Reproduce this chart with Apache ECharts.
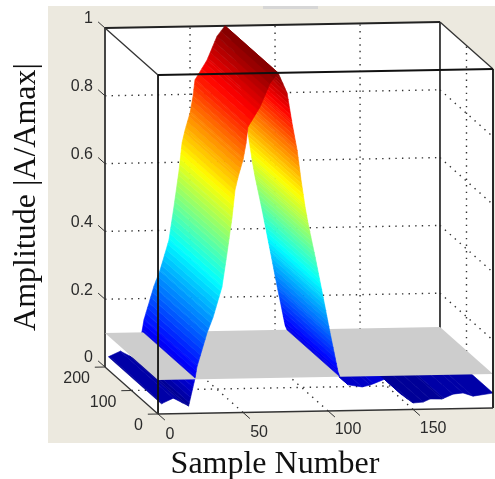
<!DOCTYPE html>
<html><head><meta charset="utf-8">
<style>html,body{margin:0;padding:0;background:#fff}#c{width:495px;height:479px}</style>
<script src="https://cdn.jsdelivr.net/npm/echarts@6/dist/echarts.min.js"></script>
</head><body><div id="c"></div>
<script>
// ---- data ----
const sampleLow1   = [2, 9, 18, 21.8];
const ampLow1      = [0.03, 0.046, 0.022, 0.104];
const sampleRising = [21.8, 22.9, 28.8, 32.4, 37.6, 40.6, 43.5, 45.3, 47.1, 50, 51.8, 52.9, 60, 65.9, 70.6];
const ampRising    = [0.104, 0.137, 0.236, 0.283, 0.371, 0.471, 0.574, 0.657, 0.695, 0.745, 0.795, 0.842, 0.90, 0.97, 1.0];
const sampleFalling= [70.6, 75.9, 78.8, 81.8, 84.1, 86.5, 88.2, 92.4, 97.1, 101.2, 105.9, 107];
const ampFalling   = [1.0, 0.94, 0.851, 0.771, 0.683, 0.603, 0.555, 0.455, 0.336, 0.23, 0.114, 0.1];
const sampleLow2   = [107, 111.8, 120, 124.7, 133.5, 137.6, 143.5, 150, 155.9, 160, 167, 173.5, 179.4, 185.3, 197];
const ampLow2      = [0.1, 0.076, 0.069, 0.074, 0.091, 0.076, 0.043, 0.019, 0.021, 0.03, 0.029, 0.043, 0.046, 0.036, 0.044];
const planeLevel = 0.1;
const xTicks = [0, 50, 100, 150];
const yTicks = [0, 100, 200];
const zTicks = [0, 0.2, 0.4, 0.6, 0.8, 1];
const xTickLabels = ['0', '50', '100', '150'];
const yTickLabels = ['0', '100', '200'];
const zTickLabels = ['0', '0.2', '0.4', '0.6', '0.8', '1'];
const xTitle = 'Sample Number';
const zTitle = 'Amplitude |A/Amax|';
const xMax = 197, yMax = 200, zMax = 1;

// ---- view: 3D data -> two hidden linear axes ----
const shearU = -0.1559, shearVy = 0.000693, shearVx = 0.00009;
const proj = (x, y, z) => [x + shearU * y, z + shearVx * x + shearVy * y];
const uMin = shearU * yMax, vMax = 1 + shearVy * yMax;

function jet(t) {
  const q = Math.min(63, Math.max(0, Math.floor(t * 64)));
  const s = (q + 0.5) / 64;
  const c = v => Math.round(255 * Math.max(0, Math.min(1, v)));
  return `rgb(${c(Math.min(4*s-1.5, -4*s+4.5))},${c(Math.min(4*s-0.5, -4*s+3.5))},${c(Math.min(4*s+0.5, -4*s+2.5))})`;
}
// slice a profile into strips of one colour-map level each
function strips(xs, zs) {
  const out = [];
  for (let i = 0; i + 1 < xs.length; i++) {
    const [xa, za, xb, zb] = [xs[i], zs[i], xs[i+1], zs[i+1]];
    const cuts = [0, 1];
    for (let k = 0; k <= 64; k++) {
      const l = k / 64, t = (l - za) / (zb - za);
      if (t > 0 && t < 1) cuts.push(t);
    }
    const tp = (planeLevel - za) / (zb - za);
    if (tp > 0 && tp < 1) cuts.push(tp);
    cuts.sort((a, b) => a - b);
    for (let j = 0; j + 1 < cuts.length; j++) {
      const p = cuts[j], q = cuts[j+1];
      out.push([xa+(xb-xa)*p, za+(zb-za)*p, xa+(xb-xa)*q, za+(zb-za)*q]);
    }
  }
  return out;
}
const allLow = strips(sampleLow1, ampLow1).concat(strips(sampleLow2, ampLow2));
const falling = strips(sampleFalling, ampFalling);
const rising = strips(sampleRising, ampRising);

const frameLine = '#111';
const dash = {stroke:'#333', lineWidth:1.4, lineDash:[1.4,5.2]};
const solid = (w, c) => ({stroke:c || frameLine, lineWidth:w});

function seg(api, a, b, style) {
  const p = api.coord(proj(...a)), q = api.coord(proj(...b));
  return {type:'line', shape:{x1:p[0],y1:p[1],x2:q[0],y2:q[1]}, style};
}
function poly(api, pts, style) {
  return {type:'polygon', shape:{points:pts.map(p => api.coord(proj(...p)))}, style};
}
function stripSeries(list, name) {
  return {
    type:'custom', name, coordinateSystem:'cartesian2d', silent:true, clip:false,
    data:list.map((_, i) => [i]),
    renderItem(params, api) {
      const [xa, za, xb, zb] = list[params.dataIndex];
      const col = jet((za + zb) / 2);
      return poly(api, [[xa,0,za],[xb,0,zb],[xb,yMax,zb],[xa,yMax,za]], {fill:col, stroke:col, lineWidth:0.6});
    }
  };
}
function oneShot(name, build) {
  return {
    type:'custom', name, coordinateSystem:'cartesian2d', silent:true, clip:false,
    data:[[0]],
    renderItem(params, api) { return {type:'group', children:build(api)}; }
  };
}

const back = oneShot('box', api => {
  const kids = [poly(api, [[0,yMax,1],[xMax,yMax,1],[xMax,0,1],[xMax,0,0],[0,0,0],[0,yMax,0]], {fill:'#fff'})];
  zTicks.filter(z => z > 0 && z < 1).forEach(z => {
    kids.push(seg(api,[0,yMax,z],[xMax,yMax,z],dash));
    kids.push(seg(api,[xMax,yMax,z],[xMax,0,z],dash));
  });
  xTicks.filter(x => x > 0).forEach(x => {
    kids.push(seg(api,[x,yMax,0],[x,yMax,1],dash));
    kids.push(seg(api,[x,0,0],[x,yMax,0],dash));
  });
  kids.push(seg(api,[xMax,100,0],[xMax,100,1],dash));
  kids.push(seg(api,[0,100,0],[xMax,100,0],dash));
  kids.push(seg(api,[0,yMax,0],[0,yMax,1],solid(1.8,'#333')));
  kids.push(seg(api,[xMax,yMax,0],[xMax,yMax,1],solid(1.8,'#333')));
  kids.push(seg(api,[0,yMax,1],[xMax,yMax,1],solid(1.8,'#222')));
  kids.push(seg(api,[0,yMax,1],[0,0,1],solid(1.3,'#333')));
  kids.push(seg(api,[xMax,yMax,1],[xMax,0,1],solid(1.3,'#333')));
  return kids;
});
const plane = oneShot('plane', api => [
  poly(api, [[0,yMax,planeLevel],[xMax,yMax,planeLevel],[xMax,0,planeLevel],[0,0,planeLevel]], {fill:'#cdcdcd'})
]);
const front = oneShot('front', api => {
  const kids = [
    seg(api,[0,0,0],[0,0,1],solid(1.8)),
    seg(api,[xMax,0,0],[xMax,0,1],solid(1.8)),
    seg(api,[0,0,1],[xMax,0,1],solid(1.8)),
    seg(api,[0,0,0],[xMax,0,0],solid(1.7,'#333')),
    seg(api,[0,0,0],[0,yMax,0],solid(1.3,'#333'))
  ];
  const tf = 'Liberation Sans, Arial, sans-serif';
  const text = (p, dx, dy, t, align) => {
    const c = api.coord(proj(...p));
    return {type:'text', x:c[0]+dx, y:c[1]+dy, style:{text:t, fill:'#2b2b2b', font:`16px ${tf}`, align, verticalAlign:'middle'}};
  };
  xTicks.forEach((x, i) => {
    kids.push(seg(api,[x,0,0],[x,-26,0],solid(1,'#333')));
    kids.push(text([x,0,0], 12 + 8*Math.min(1, x/100), 21 - 2*Math.min(1, x/100), xTickLabels[i], 'center'));
  });
  yTicks.forEach((y, i) => {
    kids.push(seg(api,[0,y,0],[-6,y,0],solid(1,'#333')));
    kids.push(text([0,y,0], -15, 12, yTickLabels[i], 'right'));
  });
  zTicks.forEach((z, i) => {
    kids.push(seg(api,[0,yMax,z],[0,yMax+26,z],solid(1,'#333')));
    kids.push(text([0,yMax,z], -12, -9, zTickLabels[i], 'right'));
  });
  return kids;
});

const chart = echarts.init(document.getElementById('c'), null, {renderer:'canvas'});
chart.setOption({
  animation:false,
  backgroundColor:'#fff',
  graphic:[
    {type:'rect', z:-10, shape:{x:48,y:6,width:447,height:437}, style:{fill:'#ece9df'}},
    {type:'rect', z:-9, shape:{x:263,y:6,width:55,height:3}, style:{fill:'#d6d6d6'}}
  ],
  grid:{left:105, right:2, top:28, bottom:65, outerBoundsMode:'none'},
  xAxis:{type:'value', min:uMin, max:xMax, show:true,
    axisLine:{show:false}, axisTick:{show:false}, axisLabel:{show:false}, splitLine:{show:false},
    name:xTitle, nameLocation:'middle', nameGap:35,
    nameTextStyle:{fontFamily:'Liberation Serif', fontSize:32, color:'#111', padding:[0,48,0,0]}},
  yAxis:{type:'value', min:0, max:vMax, show:true,
    axisLine:{show:false}, axisTick:{show:false}, axisLabel:{show:false}, splitLine:{show:false},
    name:zTitle, nameLocation:'middle', nameGap:62,
    nameTextStyle:{fontFamily:'Liberation Serif', fontSize:32, color:'#111', padding:[0,0,0,48]}},
  series:[
    back,
    stripSeries(allLow, 'below plane'),
    plane,
    stripSeries(falling.filter(s => Math.min(s[1], s[3]) >= planeLevel - 1e-9), 'falling side'),
    stripSeries(rising, 'rising side'),
    front
  ]
});
</script></body></html>
